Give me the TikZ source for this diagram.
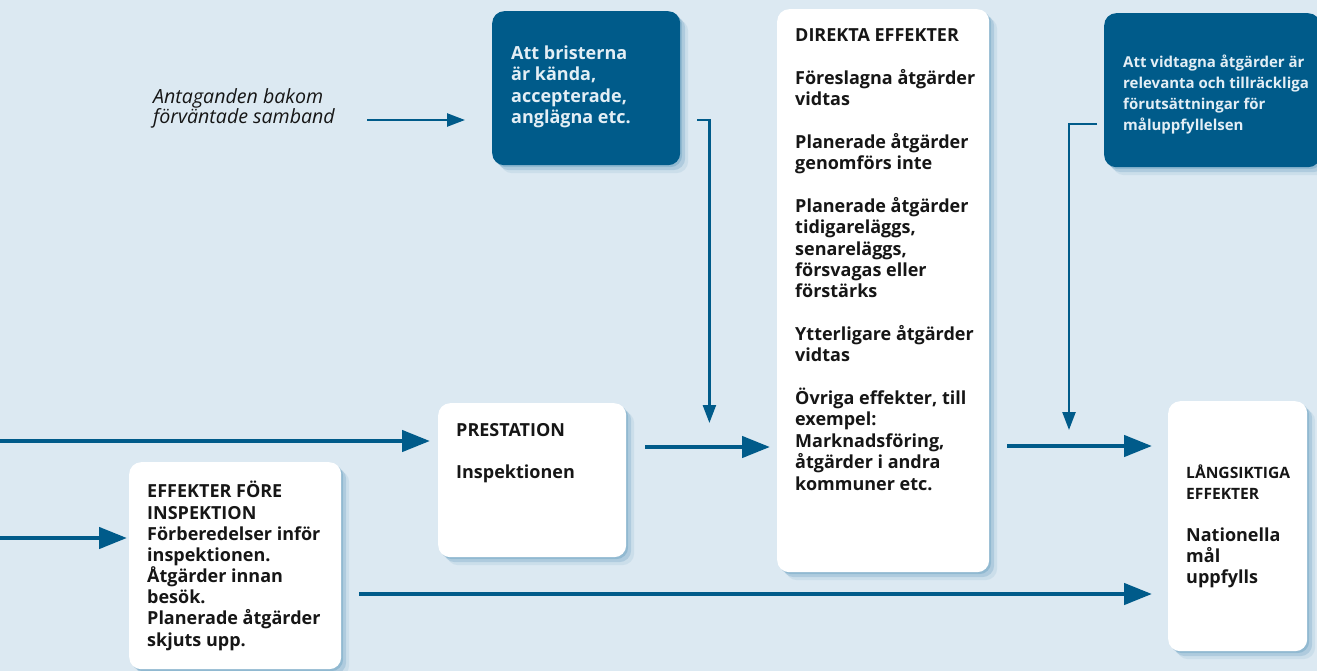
\documentclass[tikz,border=0pt]{standalone}
\usepackage{fontspec}
\setmainfont{Open Sans}
\usetikzlibrary{arrows.meta,shadows,calc}
\definecolor{bg}{HTML}{DCE9F2}
\definecolor{dblue}{HTML}{005B8A}
\definecolor{ltext}{HTML}{E3EEF5}
\definecolor{shcol}{HTML}{6FA3C3}
\definecolor{ink}{HTML}{161616}
\begin{document}
\begin{tikzpicture}[x=1pt,y=-1pt,
  softshadow/.style={
    drop shadow={shadow xshift=2pt,shadow yshift=-2pt,fill=shcol,opacity=.45},
    drop shadow={shadow xshift=5pt,shadow yshift=-5pt,fill=shcol,opacity=.3},
    drop shadow={shadow xshift=8pt,shadow yshift=-8pt,fill=shcol,opacity=.15}},
  wbox/.style={draw=none,fill=white,rounded corners=12pt,softshadow,anchor=north west,inner sep=0pt},
  dbox/.style={wbox,fill=dblue},
  txt/.style={anchor=base west,inner sep=0pt,align=left,text=ink,font=\fontsize{18}{21.35}\selectfont\bfseries},
  ltxt/.style={txt,text=ltext},
  stxt/.style={txt,font=\fontsize{15}{21}\selectfont\bfseries},
  itxt/.style={anchor=base west,inner sep=0pt,align=left,text=ink,font=\fontsize{19.6}{20}\selectfont\itshape},
  thickarrow/.style={draw=dblue,line width=4.5pt,-{Triangle[length=28pt,width=21pt]}},
  thinarrow/.style={draw=dblue,line width=2.4pt,-{Triangle[length=18pt,width=13pt]}}
]
\useasboundingbox (0,0) rectangle (1317,671);
\fill[bg] (0,0) rectangle (1317,671);

% boxes
\node[dbox,minimum width=188pt,minimum height=154pt] (att) at (492,11) {};
\node[wbox,minimum width=212pt,minimum height=563pt] (direkt) at (777,9) {};
\begin{scope}
\clip (0,0) rectangle (1317,671);
\node[dbox,minimum width=216pt,minimum height=154pt] (villkor) at (1104,13) {};
\end{scope}
\node[wbox,minimum width=188pt,minimum height=154pt] (prest) at (438,403) {};
\node[wbox,minimum width=139pt,minimum height=250pt] (lang) at (1168,401) {};
\node[wbox,minimum width=212pt,minimum height=207pt] (fore) at (129,462) {};

% texts (anchored at the baseline of their last line)
\node[itxt] (ant) at (153,124) {Antaganden bakom\\förväntade samband};
\node[ltxt,font=\fontsize{18}{21.6}\selectfont\bfseries] (atttxt) at (511,124) {Att bristerna\\är kända,\\accepterade,\\anglägna etc.};
\node[txt] (direkttxt) at (795,490) {DIREKTA EFFEKTER\\[21.35pt]
Föreslagna åtgärder\\vidtas\\[21.35pt]
Planerade åtgärder\\genomförs inte\\[21.35pt]
Planerade åtgärder\\tidigareläggs,\\senareläggs,\\försvagas eller\\förstärks\\[21.35pt]
Ytterligare åtgärder\\vidtas\\[21.35pt]
Övriga effekter, till\\exempel:\\Marknadsföring,\\åtgärder i andra\\kommuner etc.};
\node[stxt,text=ltext] (villkortxt) at (1123,131) {Att vidtagna åtgärder är\\relevanta och tillräckliga\\förutsättningar för\\måluppfyllelsen};
\node[txt,font=\fontsize{18}{21}\selectfont\bfseries] (presttxt) at (456,478) {PRESTATION\\[21pt]Inspektionen};
\node[stxt,font=\fontsize{15.6}{21}\selectfont\bfseries] (langhead) at (1186,499) {LÅNGSIKTIGA\\EFFEKTER};
\node[txt,font=\fontsize{18}{21}\selectfont\bfseries] (langtxt) at (1186,583) {Nationella\\mål\\uppfylls};
\node[txt,font=\fontsize{18}{21.15}\selectfont\bfseries] (foretxt) at (147,646) {EFFEKTER FÖRE\\INSPEKTION\\Förberedelser inför\\inspektionen.\\Åtgärder innan\\besök.\\Planerade åtgärder\\skjuts upp.};

% free ends
\coordinate (in1) at (0,441);
\coordinate (in2) at (0,538);

% connectors
\draw[thinarrow] ($(att.north west)+(-125,109)$) -- ($(att.north west)+(-27,109)$);
\draw[thinarrow] ($(att.north east)+(17,109)$) -| ($(prest.north east)+(83,20)$);
\draw[thinarrow] ($(villkor.north west)+(-7,111)$) -| ($(lang.north west)+(-99,29)$);
\draw[thickarrow] (in1) -- ($(prest.north west)+(-8,38)$);
\draw[thickarrow] (in2) -- ($(fore.north west)+(-2,76)$);
\draw[thickarrow] ($(fore.north east)+(18,132)$) -- ($(lang.north west)+(-16,193)$);
\draw[thickarrow] ($(prest.north east)+(19,44)$) -- ($(direkt.north west)+(-7,438)$);
\draw[thickarrow] ($(direkt.north east)+(18,437)$) -- ($(lang.north west)+(-16,45)$);
\end{tikzpicture}
\end{document}
